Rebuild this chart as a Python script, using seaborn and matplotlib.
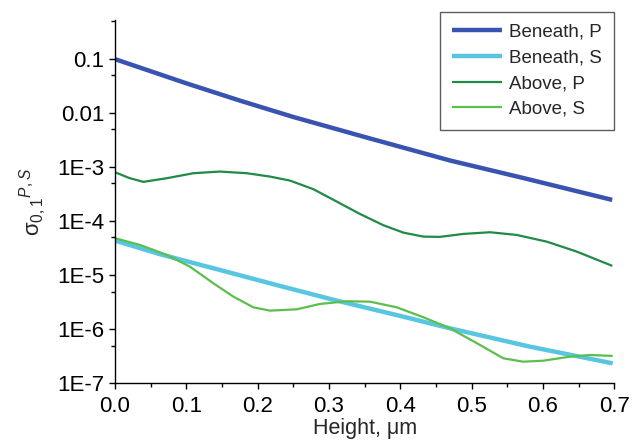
import matplotlib
matplotlib.use("Agg")
import matplotlib.pyplot as plt
import seaborn as sns
import pandas as pd

# ---- data ----
x_bp = [0.0, 0.1, 0.175, 0.25, 0.3575, 0.4697, 0.5725, 0.697]
y_bp = [0.1, 0.0357, 0.0171, 8.5e-3, 3.4e-3, 1.33e-3, 6.3e-4, 2.48e-4]

x_bs = [0.0, 0.0631, 0.1472, 0.2313, 0.3108, 0.4042, 0.4697, 0.5818, 0.6977]
y_bs = [4.38e-5, 2.45e-5, 1.25e-5, 6.34e-6, 3.39e-6, 1.71e-6, 1.04e-6, 4.76e-7, 2.34e-7]

x_ap = [0.0, 0.02, 0.0397, 0.0725, 0.11, 0.147, 0.1846, 0.2173, 0.2453, 0.278, 0.3108,
        0.3435, 0.3762, 0.4042, 0.4322, 0.4556, 0.4883, 0.5257, 0.5631, 0.6052,
        0.6473, 0.6972]
y_ap = [8.07e-4, 6.3e-4, 5.35e-4, 6.25e-4, 7.74e-4, 8.30e-4, 7.74e-4, 6.70e-4, 5.65e-4,
        3.92e-4, 2.31e-4, 1.36e-4, 8.43e-5, 6.15e-5, 5.19e-5, 5.13e-5, 5.82e-5,
        6.25e-5, 5.57e-5, 4.19e-5, 2.74e-5, 1.49e-5]

x_as = [0.0, 0.035, 0.0725, 0.1051, 0.1378, 0.1659, 0.1939, 0.2173, 0.2547, 0.2874,
        0.3248, 0.3575, 0.3949, 0.4322, 0.4697, 0.5117, 0.5444, 0.5724, 0.6005,
        0.6379, 0.6659, 0.6977]
y_as = [4.84e-5, 3.64e-5, 2.38e-5, 1.44e-5, 7.11e-6, 4.02e-6, 2.55e-6, 2.21e-6,
        2.34e-6, 2.94e-6, 3.30e-6, 3.24e-6, 2.55e-6, 1.67e-6, 1.04e-6, 5.12e-7,
        2.90e-7, 2.51e-7, 2.62e-7, 3.11e-7, 3.34e-7, 3.21e-7]

series_names = ["Beneath, P", "Beneath, S", "Above, P", "Above, S"]
x_ticks = [0.0, 0.1, 0.2, 0.3, 0.4, 0.5, 0.6, 0.7]
y_ticks = [1e-7, 1e-6, 1e-5, 1e-4, 1e-3, 1e-2, 1e-1]
y_tick_labels = ["1E-7", "1E-6", "1E-5", "1E-4", "1E-3", "0.01", "0.1"]

# ---- style ----
sns.set_style("ticks")
plt.rcParams["font.family"] = ["Liberation Sans", "DejaVu Sans"]
plt.rcParams["mathtext.fontset"] = "custom"
plt.rcParams["mathtext.rm"] = "Liberation Sans"
plt.rcParams["mathtext.it"] = "Liberation Sans:italic"

fig = plt.figure(figsize=(6.33, 4.40), dpi=100)
ax = fig.add_axes([0.1817, 0.1289, 0.7888, 0.8256])

colors = ["#3953b0", "#58c6e0", "#1f8b47", "#5cbf4b"]
widths = [3.2, 3.2, 1.6, 1.6]
xs = [x_bp, x_bs, x_ap, x_as]
ys = [y_bp, y_bs, y_ap, y_as]

for name, xv, yv, c, w in zip(series_names, xs, ys, colors, widths):
    df = pd.DataFrame({"x": xv, "y": yv})
    sns.lineplot(data=df, x="x", y="y", ax=ax, color=c, linewidth=w,
                 label=name, sort=False, estimator=None)
for line in ax.get_lines():
    line.set_solid_joinstyle("round")
    line.set_solid_capstyle("butt")

ax.set_yscale("log")
ax.set_xlim(0, 0.7)
ax.set_ylim(1e-7, 0.53)
ax.set_xticks(x_ticks)
ax.set_xticklabels([f"{v:.1f}" for v in x_ticks])
ax.set_xticks([0.05, 0.15, 0.25, 0.35, 0.45, 0.55, 0.65], minor=True)
ax.set_yticks(y_ticks)
ax.set_yticklabels(y_tick_labels)
ax.set_yticks([5e-7, 5e-6, 5e-5, 5e-4, 5e-3, 5e-2, 5e-1], minor=True)
ax.yaxis.set_minor_formatter(matplotlib.ticker.NullFormatter())

for side in ["top", "right"]:
    ax.spines[side].set_visible(False)
for side in ["left", "bottom"]:
    ax.spines[side].set_linewidth(1.0)
    ax.spines[side].set_color("black")

ax.tick_params(axis="both", which="major", direction="out", length=4.5,
               width=1.0, labelsize=16, colors="black")
ax.tick_params(axis="x", which="major", pad=5)
ax.tick_params(axis="y", which="major", pad=3)
ax.tick_params(axis="both", which="minor", direction="out", length=2.8,
               width=1.0, colors="black")

ax.set_xlabel("Height, μm", fontsize=15.5, labelpad=0.5)
ax.set_ylabel(r"σ$_{\mathrm{0,1}}{}^{P,S}$", fontsize=16, labelpad=6)

leg = ax.legend(loc="upper right", bbox_to_anchor=(1.0, 1.023),
                borderaxespad=0, fontsize=13.5, frameon=True, fancybox=False,
                handlelength=2.7, handletextpad=0.37, labelspacing=0.45,
                borderpad=0.65)
leg.get_frame().set_edgecolor("#333333")
leg.get_frame().set_linewidth(1.0)
for h, w in zip(leg.get_lines(), widths):
    h.set_linewidth(w)

fig.savefig("out.png", dpi=100)
